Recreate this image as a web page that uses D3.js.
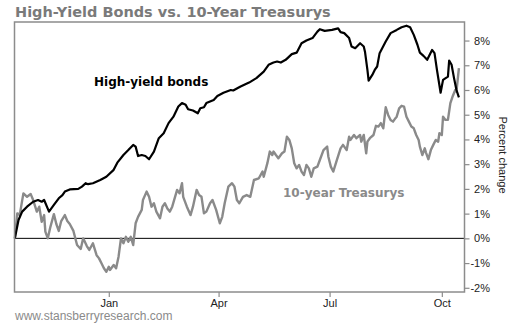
<!DOCTYPE html>
<html>
<head>
<meta charset="utf-8">
<script src="https://cdn.jsdelivr.net/npm/d3@7"></script>
<style>
  html, body { margin: 0; padding: 0; background: #fff; }
  svg { display: block; }
</style>
</head>
<body>
<svg id="chart" width="510" height="325"></svg>
<script>
// Cumulative percent change, Oct 2013 – Oct 2014
const highYield = [
  ["2013-10-16",0],["2013-10-19",0.74],["2013-10-22",1.08],["2013-10-26",1.28],["2013-10-31",1.48],
  ["2013-11-04",1.55],["2013-11-07",1.48],["2013-11-09",1.55],["2013-11-13",1.08],["2013-11-17",1.35],
  ["2013-11-21",1.62],["2013-11-24",1.75],["2013-11-26",1.89],["2013-11-30",1.98],["2013-12-07",2.00],
  ["2013-12-10",2.09],["2013-12-13",2.23],["2013-12-15",2.19],["2013-12-19",2.23],["2013-12-25",2.36],
  ["2013-12-30",2.49],["2014-01-05",2.77],["2014-01-08",3.06],["2014-01-13",3.37],["2014-01-17",3.57],
  ["2014-01-21",3.78],["2014-01-23",3.71],["2014-01-25",3.33],["2014-01-28",3.37],["2014-01-31",3.33],
  ["2014-02-03",3.20],["2014-02-07",3.51],["2014-02-11",4.05],["2014-02-15",4.25],["2014-02-19",4.66],
  ["2014-02-23",4.92],["2014-02-27",5.33],["2014-03-02",5.47],["2014-03-05",5.40],["2014-03-07",5.22],
  ["2014-03-11",5.17],["2014-03-15",5.06],["2014-03-17",5.26],["2014-03-20",5.30],["2014-03-22",5.47],
  ["2014-03-28",5.60],["2014-03-31",5.76],["2014-04-05",5.89],["2014-04-11",6.00],["2014-04-13",5.98],
  ["2014-04-19",6.14],["2014-04-26",6.30],["2014-05-02",6.48],["2014-05-08",6.74],["2014-05-12",7.02],
  ["2014-05-16",7.11],["2014-05-19",7.15],["2014-05-22",7.11],["2014-05-26",7.22],["2014-05-31",7.45],
  ["2014-06-04",7.51],["2014-06-08",7.89],["2014-06-12",8.00],["2014-06-17",8.10],["2014-06-21",8.36],
  ["2014-06-23",8.46],["2014-06-27",8.39],["2014-07-03",8.43],["2014-07-08",8.49],["2014-07-10",8.34],
  ["2014-07-13",8.30],["2014-07-17",8.10],["2014-07-19",7.76],["2014-07-22",7.69],["2014-07-26",7.89],
  ["2014-07-29",7.76],["2014-07-30",7.55],["2014-08-01",6.81],["2014-08-02",6.38],["2014-08-05",6.61],
  ["2014-08-07",6.81],["2014-08-09",6.95],["2014-08-11",7.49],["2014-08-16",7.96],["2014-08-20",8.30],
  ["2014-08-25",8.43],["2014-08-29",8.54],["2014-09-02",8.60],["2014-09-05",8.54],["2014-09-08",8.23],
  ["2014-09-11",7.83],["2014-09-13",7.51],["2014-09-16",7.38],["2014-09-19",7.22],["2014-09-23",7.62],
  ["2014-09-25",7.49],["2014-09-27",6.81],["2014-09-30",5.89],["2014-10-02",6.41],["2014-10-06",6.54],
  ["2014-10-07",7.19],["2014-10-09",7.02],["2014-10-11",6.48],["2014-10-13",6.00],["2014-10-15",5.70]
];

const treasurys = [
  ["2013-10-16",0],["2013-10-18",1.01],["2013-10-20",0.95],["2013-10-23",1.82],["2013-10-26",1.68],
  ["2013-10-29",1.79],["2013-10-31",1.55],["2013-11-03",1.08],["2013-11-05",1.28],["2013-11-07",0.67],
  ["2013-11-09",0.94],["2013-11-10",0.27],["2013-11-12",0.00],["2013-11-14",0.44],["2013-11-17",0.98],
  ["2013-11-19",0.58],["2013-11-21",0.30],["2013-11-23",0.70],["2013-11-26",0.94],["2013-11-28",0.70],
  ["2013-11-30",0.58],["2013-12-03",0.30],["2013-12-06",-0.27],["2013-12-09",-0.43],["2013-12-11",0.00],
  ["2013-12-14",-0.31],["2013-12-16",-0.47],["2013-12-19",-0.20],["2013-12-22",-0.68],["2013-12-24",-0.81],
  ["2013-12-26",-1.01],["2013-12-28",-1.21],["2013-12-30",-1.35],["2014-01-01",-1.15],["2014-01-02",-1.28],
  ["2014-01-05",-1.08],["2014-01-07",-1.21],["2014-01-09",-0.74],["2014-01-11",0.00],["2014-01-13",-0.20],
  ["2014-01-15",0.06],["2014-01-17",-0.14],["2014-01-19",0.06],["2014-01-21",-0.27],["2014-01-23",0.61],
  ["2014-01-25",0.87],["2014-01-28",1.15],["2014-01-29",1.55],["2014-02-01",1.89],["2014-02-03",1.68],
  ["2014-02-05",1.28],["2014-02-07",1.42],["2014-02-09",1.08],["2014-02-12",0.81],["2014-02-14",1.28],
  ["2014-02-16",1.42],["2014-02-18",1.21],["2014-02-20",1.08],["2014-02-22",1.28],["2014-02-26",1.96],
  ["2014-02-28",1.82],["2014-03-02",2.23],["2014-03-03",1.68],["2014-03-06",1.28],["2014-03-09",0.94],
  ["2014-03-11",1.28],["2014-03-14",1.96],["2014-03-16",1.75],["2014-03-18",1.68],["2014-03-20",1.01],
  ["2014-03-22",1.08],["2014-03-25",1.42],["2014-03-27",1.55],["2014-03-30",1.15],["2014-04-02",0.61],
  ["2014-04-04",0.87],["2014-04-06",1.42],["2014-04-09",2.09],["2014-04-12",2.23],["2014-04-14",2.09],
  ["2014-04-16",1.55],["2014-04-18",1.42],["2014-04-21",1.68],["2014-04-24",1.75],["2014-04-27",1.68],
  ["2014-04-30",2.36],["2014-05-04",2.43],["2014-05-07",2.70],["2014-05-08",2.49],["2014-05-11",3.04],
  ["2014-05-13",3.51],["2014-05-15",3.37],["2014-05-16",3.51],["2014-05-18",3.37],["2014-05-20",3.24],
  ["2014-05-23",3.44],["2014-05-25",3.51],["2014-05-27",4.11],["2014-05-29",3.98],["2014-05-31",3.64],
  ["2014-06-02",3.04],["2014-06-04",2.83],["2014-06-06",2.97],["2014-06-08",2.70],["2014-06-10",2.56],
  ["2014-06-12",2.97],["2014-06-14",2.83],["2014-06-16",2.49],["2014-06-18",2.83],["2014-06-21",2.90],
  ["2014-06-23",3.17],["2014-06-26",3.57],["2014-06-29",3.71],["2014-06-30",3.30],["2014-07-02",2.90],
  ["2014-07-04",2.70],["2014-07-07",3.17],["2014-07-10",3.64],["2014-07-12",3.78],["2014-07-15",3.57],
  ["2014-07-17",4.11],["2014-07-18",3.98],["2014-07-21",4.18],["2014-07-23",4.05],["2014-07-26",4.18],
  ["2014-07-27",3.91],["2014-07-29",4.18],["2014-07-31",3.44],["2014-08-01",3.91],["2014-08-03",4.05],
  ["2014-08-06",4.18],["2014-08-08",4.55],["2014-08-10",4.52],["2014-08-12",4.66],["2014-08-14",4.45],
  ["2014-08-16",5.30],["2014-08-18",4.99],["2014-08-20",4.79],["2014-08-22",4.72],["2014-08-24",4.86],
  ["2014-08-25",4.92],["2014-08-27",5.26],["2014-08-29",5.36],["2014-08-31",5.33],["2014-09-02",4.92],
  ["2014-09-04",4.72],["2014-09-06",4.52],["2014-09-08",4.45],["2014-09-10",4.18],["2014-09-12",3.98],
  ["2014-09-13",3.71],["2014-09-15",3.37],["2014-09-17",3.64],["2014-09-18",3.47],["2014-09-20",3.20],
  ["2014-09-22",3.57],["2014-09-24",3.78],["2014-09-26",3.98],["2014-09-28",3.91],["2014-09-29",4.25],
  ["2014-10-01",4.18],["2014-10-02",4.92],["2014-10-04",4.79],["2014-10-06",4.79],["2014-10-08",5.47],
  ["2014-10-10",5.76],["2014-10-12",6.00],["2014-10-13",5.94],["2014-10-15",6.88]
];

const xTickDates = ["2014-01-01","2014-04-01","2014-07-01","2014-10-01"];
const yTickValues = [-2,-1,0,1,2,3,4,5,6,7,8];

const titleText = "High-Yield Bonds vs. 10-Year Treasurys";
const hyLabel = "High-yield bonds";
const tsyLabel = "10-year Treasurys";
const yAxisLabel = "Percent change";
const sourceText = "www.stansberryresearch.com";

const parse = d3.timeParse("%Y-%m-%d");
const hy = highYield.map(([d, v]) => ({ date: parse(d), value: v }));
const tsy = treasurys.map(([d, v]) => ({ date: parse(d), value: v }));

const plot = { left: 14.5, right: 464.5, top: 22, bottom: 292 };

const x = d3.scaleTime()
  .domain([new Date(2013, 9, 15, 17), new Date(2014, 9, 19, 14)])
  .range([plot.left, plot.right]);

const y = d3.scaleLinear()
  .domain([-2.17, 8.75])
  .range([plot.bottom, plot.top]);

const svg = d3.select("#chart");

// Title
svg.append("text")
  .attr("x", 15).attr("y", 17)
  .attr("font-family", "DejaVu Sans, Verdana, sans-serif")
  .attr("font-weight", "bold")
  .attr("font-size", 14.5)
  .attr("fill", "#7a7a7a")
  .text(titleText);

// Zero line
svg.append("line")
  .attr("x1", plot.left).attr("x2", plot.right)
  .attr("y1", y(0)).attr("y2", y(0))
  .attr("stroke", "#000").attr("stroke-width", 1);

const line = d3.line()
  .x(d => x(d.date))
  .y(d => y(d.value));

svg.append("path")
  .datum(tsy)
  .attr("d", line)
  .attr("fill", "none")
  .attr("stroke", "#8a8a8a")
  .attr("stroke-width", 2.4)
  .attr("stroke-linejoin", "round");

svg.append("path")
  .datum(hy)
  .attr("d", line)
  .attr("fill", "none")
  .attr("stroke", "#000")
  .attr("stroke-width", 2.2)
  .attr("stroke-linejoin", "round");

// Frame
svg.append("rect")
  .attr("x", plot.left).attr("y", plot.top)
  .attr("width", plot.right - plot.left)
  .attr("height", plot.bottom - plot.top)
  .attr("fill", "none")
  .attr("stroke", "#8c8c8c")
  .attr("stroke-width", 1.5);

// Right axis
const yAxis = d3.axisRight(y)
  .tickValues(yTickValues)
  .tickSize(5)
  .tickFormat(d => d + "%");

const gy = svg.append("g")
  .attr("transform", `translate(${plot.right},0)`)
  .call(yAxis);
gy.select(".domain").remove();
gy.selectAll(".tick line").attr("stroke", "#8c8c8c").attr("stroke-width", 1.2);
gy.selectAll(".tick text")
  .attr("x", 25.5)
  .attr("text-anchor", "end")
  .attr("font-family", "Liberation Sans, Arial, sans-serif")
  .attr("font-size", 11)
  .attr("fill", "#222");

// Bottom axis
const xAxis = d3.axisBottom(x)
  .tickValues(xTickDates.map(parse))
  .tickSize(5)
  .tickFormat(d3.timeFormat("%b"));

const gx = svg.append("g")
  .attr("transform", `translate(0,${plot.bottom})`)
  .call(xAxis);
gx.select(".domain").remove();
gx.selectAll(".tick line").attr("stroke", "#8c8c8c").attr("stroke-width", 1.2);
gx.selectAll(".tick text")
  .attr("y", 7)
  .attr("font-family", "Liberation Sans, Arial, sans-serif")
  .attr("font-size", 11)
  .attr("fill", "#222");

// Axis title
svg.append("text")
  .attr("transform", `translate(498.5,155) rotate(90)`)
  .attr("text-anchor", "middle")
  .attr("font-family", "Liberation Sans, Arial, sans-serif")
  .attr("font-size", 11)
  .attr("fill", "#222")
  .text(yAxisLabel);

// Series labels
svg.append("text")
  .attr("x", 94).attr("y", 86)
  .attr("font-family", "DejaVu Sans, Verdana, sans-serif")
  .attr("font-weight", "bold")
  .attr("font-size", 12)
  .attr("fill", "#000")
  .text(hyLabel);

svg.append("text")
  .attr("x", 283).attr("y", 197)
  .attr("font-family", "DejaVu Sans, Verdana, sans-serif")
  .attr("font-weight", "bold")
  .attr("font-size", 12)
  .attr("fill", "#8a8a8a")
  .text(tsyLabel);

// Source
svg.append("text")
  .attr("x", 15).attr("y", 320)
  .attr("font-family", "Liberation Sans, Arial, sans-serif")
  .attr("font-size", 12)
  .attr("fill", "#8a8a8a")
  .text(sourceText);
</script>
</body>
</html>
